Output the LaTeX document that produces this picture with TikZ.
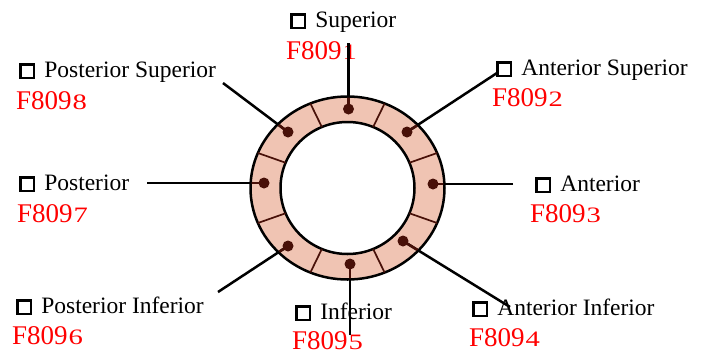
\documentclass[tikz,border=0pt]{standalone}
\usepackage{fontspec}
\usepackage{graphicx}
\setmainfont{Liberation Serif}
\usetikzlibrary{calc}
\definecolor{ringfill}{RGB}{240,196,179}
\definecolor{ringmark}{RGB}{72,16,8}
\definecolor{codered}{RGB}{255,0,0}
% open tick box in front of each region name
\newcommand{\tickbox}{{\setlength{\fboxsep}{0pt}\setlength{\fboxrule}{2.3pt}%
  \fbox{\rule{0pt}{11.5pt}\rule{11.5pt}{0pt}}}\hspace{9pt}}
\newcommand{\regiontext}[1]{\fontsize{23.5}{26}\selectfont\tickbox #1}
\newcommand{\regioncode}[1]{\fontsize{27}{30}\selectfont F809%
  \hspace{1pt}\scalebox{1.3}[1]{\fontsize{22}{24}\selectfont #1}}
\tikzset{
  regionlabel/.style={anchor=base west, inner sep=0pt, text=black},
  codelabel/.style={anchor=base west, inner sep=0pt, text=codered},
  leader/.style={line width=2.5pt, black},
  leaderin/.style={line width=2.5pt, ringmark},
  divider/.style={line width=1.7pt, ringmark},
  ringedge/.style={line width=2.5pt, black},
  pin/.style={circle, fill=ringmark, inner sep=0pt, minimum size=11pt},
}
\begin{document}
\begin{tikzpicture}[x=1pt, y=-1pt]
\useasboundingbox (0,0) rectangle (707,354);

% ring
\coordinate (c) at (347.5,188);
\fill[ringfill] (c) ellipse [x radius=97, y radius=91.5];
\draw[ringedge] (c) ellipse [x radius=97, y radius=91.5];
\fill[white] (c) ellipse [x radius=67, y radius=66];
\draw[ringedge] (c) ellipse [x radius=67, y radius=66];
\foreach \a in {22.5,67.5,...,337.5}
  \draw[divider] ($(c)+(\a:67 and 66)$) -- ($(c)+(\a:97 and 91.5)$);

% labels
\node[regionlabel] (tS)  at (290,27)  {\regiontext{Superior}};
\node[codelabel]   (cS)  at (286,59)  {\regioncode{1}};
\node[regionlabel] (tUL) at (19,77)   {\regiontext{Posterior Superior}};
\node[codelabel]   (cUL) at (16,109)  {\regioncode{8}};
\node[regionlabel] (tUR) at (496,75)  {\regiontext{Anterior Superior}};
\node[codelabel]   (cUR) at (492,106) {\regioncode{2}};
\node[regionlabel] (tL)  at (19,190)  {\regiontext{Posterior}};
\node[codelabel]   (cL)  at (17,222)  {\regioncode{7}};
\node[regionlabel] (tR)  at (535,191) {\regiontext{Anterior}};
\node[codelabel]   (cR)  at (530,222) {\regioncode{3}};
\node[regionlabel] (tLL) at (16,313)  {\regiontext{Posterior Inferior}};
\node[codelabel]   (cLL) at (12,344)  {\regioncode{6}};
\node[regionlabel] (tB)  at (295,319) {\regiontext{Inferior}};
\node[codelabel]   (cB)  at (292,349) {\regioncode{5}};
\node[regionlabel] (tLR) at (472,315) {\regiontext{Anterior Inferior}};
\node[codelabel]   (cLR) at (469,346) {\regioncode{4}};

% pins on the ring
\coordinate (pS)  at (348.5,109);
\coordinate (pUR) at (407,132);
\coordinate (pR)  at (433,184);
\coordinate (pLR) at (403,241);
\coordinate (pB)  at (350,264);
\coordinate (pLL) at (288,246);
\coordinate (pL)  at (264,183);
\coordinate (pUL) at (288,132);

% free ends of the leaders
\coordinate (eS)  at (348.5,43);
\coordinate (eUR) at (497,73);
\coordinate (eR)  at (513,184);
\coordinate (eLR) at (510,307);
\coordinate (eB)  at (350,335);
\coordinate (eLL) at (218,292);
\coordinate (eL)  at (147,183);
\coordinate (eUL) at (223,83);

\foreach \n in {S,UR,R,LR,B,LL,L,UL}
  \draw[leader] (e\n) -- (p\n);
\begin{scope}
  \clip (c) ellipse [x radius=96, y radius=90.5];
  \foreach \n in {S,UR,R,LR,B,LL,L,UL}
    \draw[leaderin] (e\n) -- (p\n);
\end{scope}
\foreach \n in {S,UR,R,LR,B,LL,L,UL}
  \node[pin] (dot\n) at (p\n) {};
\end{tikzpicture}
\end{document}
